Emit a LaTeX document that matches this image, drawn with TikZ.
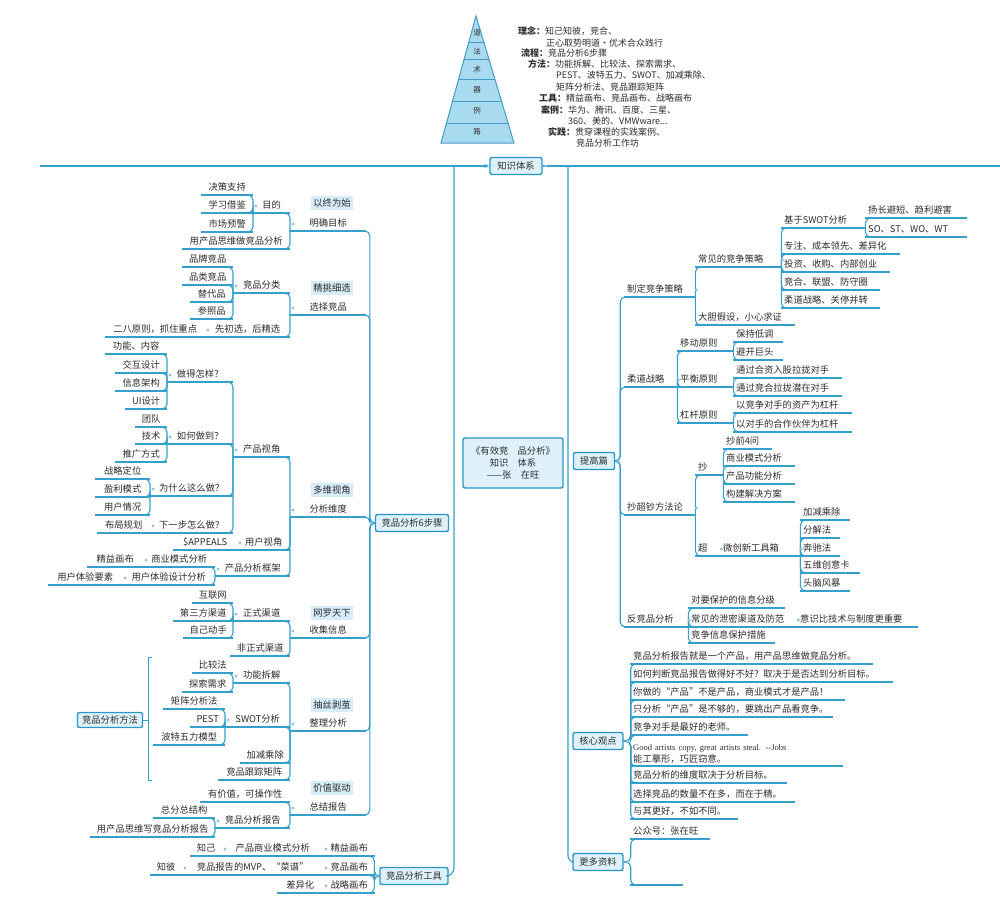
\documentclass[tikz,border=0pt]{standalone}
\usepackage{fontspec}
\setmainfont{Noto Sans CJK SC}
\newfontfamily\lser{Liberation Serif}
\usetikzlibrary{arrows.meta}
\definecolor{lnc}{RGB}{52,160,205}
\definecolor{boxc}{RGB}{40,150,200}
\definecolor{boxf}{RGB}{222,241,250}
\definecolor{labf}{RGB}{214,236,247}
\definecolor{dotc}{RGB}{150,195,215}
\definecolor{txt}{RGB}{45,45,45}
\definecolor{pyrf}{RGB}{168,218,240}
\definecolor{pyrl}{RGB}{70,155,200}
\tikzset{
  ln/.style={draw=lnc, line width=1.3pt},
  cn/.style={draw=lnc, line width=1.1pt, rounded corners=5pt},
  tpa/.style={anchor=south west, inner xsep=3pt, inner ysep=2.5pt, text=txt, font=\fontsize{9.3}{12}\selectfont},
  tp/.style={tpa, text height=7pt, text depth=2pt},
  bx/.style={draw=boxc, line width=1.4pt, fill=boxf, rounded corners=2pt, text=txt, font=\fontsize{9.3}{12}\selectfont, inner sep=2pt, minimum height=17pt},
  lab/.style={fill=labf, text=txt, font=\fontsize{9.3}{11}\selectfont, inner xsep=2.5pt, inner ysep=3pt},
  lg/.style={anchor=west, inner sep=0pt, text=txt, font=\fontsize{9}{10}\selectfont},
  pl/.style={text=txt, font=\fontsize{7.5}{8}\selectfont, inner sep=0pt},
  dt/.style={fill=dotc},
}
\newcommand\mmL[5]{\pgfmathsetmacro\mmw{#3-#2-6}\node[tp, text width=\mmw pt, align=center] (#1) at (#2,#4) {\mbox{#5}};}
\newcommand\mmR[5]{\pgfmathsetmacro\mmw{#3-#2-6}\node[tp, text width=\mmw pt, align=left] (#1) at (#2,#4) {\mbox{#5}};}
\begin{document}
\begin{tikzpicture}[x=1pt,y=-1pt]
\useasboundingbox (0,0) rectangle (1000,907);
\fill[white] (0,0) rectangle (1000,907);

% pyramid
\coordinate (pa) at (476,16);
\coordinate (pb) at (441,143);
\coordinate (pc) at (514,143);
\fill[pyrf] (pa) -- (pb) -- (pc) -- cycle;
\begin{scope}
\clip (pa) -- (pb) -- (pc) -- cycle;
\foreach \yy in {42,59,79,101,123} \draw[pyrl, line width=0.8pt] (400,\yy) -- (560,\yy);
\end{scope}
\draw[pyrl, line width=1pt] (pa) -- (pb) -- (pc) -- cycle;
\node[pl] (p1) at (477,33) {道};
\node[pl] (p2) at (477,52) {法};
\node[pl] (p3) at (477,70) {术};
\node[pl] (p4) at (477,90) {器};
\node[pl] (p5) at (477,111) {例};
\node[pl] (p6) at (477,132) {路};

% legend
\node[lg] (lg1) at (518,31) {\textbf{理念：}知己知彼，竞合、};
\node[lg] (lg2) at (546,43) {正心取势明道·优术合众践行};
\node[lg] (lg3) at (521,53) {\textbf{流程：}竞品分析6步骤};
\node[lg] (lg4) at (528,64) {\textbf{方法：}功能拆解、比较法、探索需求、};
\node[lg] (lg5) at (556,75) {PEST、波特五力、SWOT、加减乘除、};
\node[lg] (lg6) at (556,87) {矩阵分析法、竞品跟踪矩阵};
\node[lg] (lg7) at (539,98) {\textbf{工具：}精益画布、竞品画布、战略画布};
\node[lg] (lg8) at (541,110) {\textbf{案例：}华为、腾讯、百度、三星、};
\node[lg] (lg9) at (568,121) {360、美的、VMWware...};
\node[lg] (lg10) at (548,132) {\textbf{实践：}贯穿课程的实践案例、};
\node[lg] (lg11) at (576,143) {竞品分析工作坊};

% main boxes
\node[bx, minimum width=52pt] (zs) at (516,166) {知识体系};
\node[bx, minimum width=73pt] (step6) at (412,523) {竞品分析6步骤};
\node[bx, minimum width=68pt] (tool) at (414,876) {竞品分析工具};
\node[bx, minimum width=65pt, minimum height=15pt] (ffbox) at (110,720) {竞品分析方法};
\node[bx, minimum width=100pt, minimum height=50pt, align=center] (center) at (513,463) {《有效竞\quad 品分析》\\知识\quad 体系\\——张\quad 在旺};
\node[bx, minimum width=41pt] (tg) at (594,461) {提高篇};
\node[bx, minimum width=50pt] (core) at (598,741) {核心观点};
\node[bx, minimum width=50pt] (more) at (598,862) {更多资料};

% top frame lines
\coordinate (tl) at (40,166);
\coordinate (tr) at (1000,166);
\coordinate (ltop) at (454,166);
\coordinate (rtop) at (568,166);
\draw[ln, -{Stealth[length=5pt,width=4pt]}] (tl) -- (zs.west);
\draw[ln] (zs.east) -- (tr);
\draw[ln, line width=1.1pt, rounded corners=8pt] (ltop) |- (tool.east);
\draw[ln, line width=1.1pt, rounded corners=6pt] (rtop) |- (more.west);

% labels
\node[lab] (l1) at (332,203) {以终为始};
\node[lab] (l2) at (332,288) {精挑细选};
\node[lab] (l3) at (332,490) {多维视角};
\node[lab] (l4) at (332,613) {网罗天下};
\node[lab] (l5) at (332,705) {抽丝剥茧};
\node[lab] (l6) at (332,788) {价值驱动};

% left topics
\mmL{mb}{290}{366}{231}{明确目标}
\mmL{xz}{290}{366}{315}{选择竞品}
\mmL{fx}{290}{366}{517}{分析维度}
\mmL{sj}{290}{366}{638}{收集信息}
\mmL{zl}{290}{366}{731}{整理分析}
\mmL{zj}{290}{366}{815}{总结报告}
\mmL{md}{253}{290}{213}{目的}
\mmL{yc}{182}{290}{249}{用产品思维做竞品分析}
\mmL{jc}{201}{253}{195}{决策支持}
\mmL{xx}{201}{253}{213}{学习借鉴}
\mmL{sc}{201}{253}{232}{市场预警}
\mmL{fl}{233}{290}{293}{竞品分类}
\mmL{cx}{205}{290}{337}{先初选，后精选}
\mmL{pp}{182}{233}{267}{品牌竞品}
\mmL{pl}{182}{233}{285}{品类竞品}
\mmL{td}{190}{233}{302}{替代品}
\mmL{cz}{190}{233}{319}{参照品}
\mmL{ebl}{105}{205}{337}{二八原则，抓住重点}
\mmL{cpsj}{233}{290}{457}{产品视角}
\mmL{yhsj}{237}{290}{550}{用户视角}
\mmL{kj}{215}{290}{576}{产品分析框架}
\mmL{zdzy}{167}{233}{382}{做得怎样？}
\mmL{rhzd}{167}{233}{444}{如何做到？}
\mmL{wsm}{150}{233}{496}{为什么这么做？}
\mmL{xyb}{150}{233}{533}{下一步怎么做？}
\mmL{gnnr}{105}{167}{354}{功能、内容}
\mmL{jhsj}{115}{167}{373}{交互设计}
\mmL{xxjg}{115}{167}{391}{信息架构}
\mmL{uisj}{125}{167}{409}{UI设计}
\mmL{td2}{135}{167}{427}{团队}
\mmL{js}{135}{167}{444}{技术}
\mmL{tgfs}{115}{167}{462}{推广方式}
\mmL{zldw}{95}{150}{479}{战略定位}
\mmL{ylms}{95}{150}{497}{盈利模式}
\mmL{yhqk}{95}{150}{515}{用户情况}
\mmL{bjgh}{97}{150}{533}{布局规划}
\mmL{appeals}{173}{237}{550}{\$APPEALS}
\mmL{symx}{143}{215}{567}{商业模式分析}
\mmL{tysj}{122}{215}{585}{用户体验设计分析}
\mmL{jyhb}{87}{143}{567}{精益画布}
\mmL{tyys}{48}{122}{585}{用户体验要素}
\mmL{zsqd}{233}{290}{621}{正式渠道}
\mmL{fzs}{230}{290}{656}{非正式渠道}
\mmL{hlw}{192}{233}{603}{互联网}
\mmL{dsf}{173}{233}{621}{第三方渠道}
\mmL{zjds}{183}{233}{638}{自己动手}
\mmL{gncj}{233}{290}{683}{功能拆解}
\mmL{swot}{225}{290}{727}{SWOT分析}
\mmL{jjcc}{240}{290}{763}{加减乘除}
\mmL{gzjz}{218}{290}{780}{竞品跟踪矩阵}
\mmL{bjf}{192}{233}{673}{比较法}
\mmL{tsxq}{182}{233}{692}{探索需求}
\mmL{jzfx}{163}{225}{709}{矩阵分析法}
\mmL{pest}{190}{225}{727}{PEST}
\mmL{btwl}{153}{225}{745}{波特五力模型}
\mmL{yjz}{200}{290}{802}{有价值，可操作性}
\mmL{fxbg}{215}{290}{828}{竞品分析报告}
\mmL{zfz}{153}{215}{818}{总分总结构}
\mmL{cpsw}{90}{215}{837}{用产品思维写竞品分析报告}
\mmL{jyhb2}{323}{375}{856}{精益画布}
\mmL{jphb}{323}{375}{875}{竞品画布}
\mmL{zlhb}{323}{375}{893}{战略画布}
\mmL{cpsy}{222}{323}{856}{产品商业模式分析}
\mmL{zj2}{190}{222}{856}{知己}
\mmL{mvp}{182}{323}{875}{竞品报告的MVP、“菜谱”}
\mmL{zb}{150}{182}{875}{知彼}
\mmL{cyh}{277}{323}{893}{差异化}

% right topics
\mmR{zdcl}{624}{695}{297}{制定竞争策略}
\mmR{rdzl}{624}{677}{387}{柔道战略}
\mmR{cczf}{624}{695}{515}{抄超钞方法论}
\mmR{fjp}{624}{688}{627}{反竞品分析}
\mmR{cjcl}{695}{781}{267}{常见的竞争策略}
\mmR{ddjs}{695}{795}{325}{大胆假设，小心求证}
\mmR{swotfx}{781}{865}{228}{基于SWOT分析}
\mmR{zz}{781}{900}{254}{专注、成本领先、差异化}
\mmR{tz}{781}{890}{272}{投资、收购、内部创业}
\mmR{jh}{781}{880}{290}{竞合、联盟、防守圈}
\mmR{rd}{781}{880}{308}{柔道战略、关停并转}
\mmR{yczd}{865}{967}{218}{扬长避短、趋利避害}
\mmR{so}{865}{967}{237}{SO、ST、WO、WT}
\mmR{ydyz}{677}{733}{351}{移动原则}
\mmR{phyz}{677}{733}{387}{平衡原则}
\mmR{ggyz}{677}{733}{423}{杠杆原则}
\mmR{bcdd}{733}{783}{342}{保持低调}
\mmR{bkjt}{733}{783}{360}{避开巨头}
\mmR{hzrg}{733}{842}{378}{通过合资入股拉拢对手}
\mmR{jhlj}{733}{842}{396}{通过竞合拉拢潜在对手}
\mmR{zcgg}{733}{852}{413}{以竞争对手的资产为杠杆}
\mmR{hzhb}{733}{852}{432}{以对手的合作伙伴为杠杆}
\mmR{chao1}{695}{723}{475}{抄}
\mmR{chao2}{695}{720}{556}{超}
\mmR{cq4w}{723}{772}{449}{抄前4问}
\mmR{syms}{723}{795}{466}{商业模式分析}
\mmR{cpgn}{723}{795}{484}{产品功能分析}
\mmR{gjfa}{723}{795}{502}{构建解决方案}
\mmR{wcx}{720}{800}{556}{微创新工具箱}
\mmR{jjcc2}{800}{850}{520}{加减乘除}
\mmR{fjf}{800}{840}{538}{分解法}
\mmR{bcf}{800}{840}{556}{奔驰法}
\mmR{wwcy}{800}{860}{573}{五维创意卡}
\mmR{tnfb}{800}{850}{591}{头脑风暴}
\mmR{dybh}{688}{785}{608}{对要保护的信息分级}
\mmR{xmqd}{688}{797}{627}{常见的泄密渠道及防范}
\mmR{jzxx}{688}{775}{643}{竞争信息保护措施}
\mmR{ysbj}{797}{918}{627}{意识比技术与制度更重要}
\mmR{g1}{630}{873}{664}{竞品分析报告就是一个产品，用产品思维做竞品分析。}
\mmR{g2}{630}{893}{682}{如何判断竞品报告做得好不好？取决于是否达到分析目标。}
\mmR{g3}{630}{845}{700}{你做的“产品”不是产品，商业模式才是产品！}
\mmR{g4}{630}{833}{717}{只分析“产品”是不够的，要跳出产品看竞争。}
\mmR{g5}{630}{748}{735}{竞争对手是最好的老师。}
\node[tpa, text width=207pt, align=left] (g6) at (630,766) {{\lser\fontsize{8.5}{12}\selectfont Good artists copy, great artists steal. --Jobs}\\能工摹形，巧匠窃意。};
\mmR{g7}{630}{787}{783}{竞品分析的维度取决于分析目标。}
\mmR{g8}{630}{795}{802}{选择竞品的数量不在多，而在于精。}
\mmR{g9}{630}{738}{819}{与其更好，不如不同。}
\mmR{gzh}{630}{710}{839}{公众号：张在旺}
\mmR{gempty}{630}{683}{885}{}

% underlines
\foreach \n in {mb,xz,fx,sj,zl,zj,md,yc,jc,xx,sc,fl,cx,pp,pl,td,cz,ebl,cpsj,yhsj,kj,zdzy,rhzd,wsm,xyb,gnnr,jhsj,xxjg,uisj,td2,js,tgfs,zldw,ylms,yhqk,bjgh,appeals,symx,tysj,jyhb,tyys,zsqd,fzs,hlw,dsf,zjds,gncj,swot,jjcc,gzjz,bjf,tsxq,jzfx,pest,btwl,yjz,fxbg,zfz,cpsw,jyhb2,jphb,zlhb,cpsy,zj2,mvp,zb,cyh}
  \draw[ln] (\n.south west) -- (\n.south east);
\foreach \n in {zdcl,rdzl,cczf,fjp,cjcl,ddjs,swotfx,zz,tz,jh,rd,yczd,so,ydyz,phyz,ggyz,bcdd,bkjt,hzrg,jhlj,zcgg,hzhb,chao1,chao2,cq4w,syms,cpgn,gjfa,wcx,jjcc2,fjf,bcf,wwcy,tnfb,dybh,xmqd,jzxx,ysbj,g1,g2,g3,g4,g5,g6,g7,g8,g9,gzh,gempty}
  \draw[ln] (\n.south west) -- (\n.south east);

% left connectors
\foreach \p/\c in {md/jc,md/xx,md/sc,mb/md,mb/yc,fl/pp,fl/pl,fl/td,fl/cz,xz/fl,xz/cx,zdzy/gnnr,zdzy/jhsj,zdzy/xxjg,zdzy/uisj,rhzd/td2,rhzd/js,rhzd/tgfs,wsm/zldw,wsm/ylms,wsm/yhqk,cpsj/zdzy,cpsj/rhzd,cpsj/wsm,cpsj/xyb,fx/cpsj,fx/yhsj,fx/kj,kj/symx,kj/tysj,sj/zsqd,sj/fzs,zsqd/hlw,zsqd/dsf,zsqd/zjds,zl/gncj,zl/swot,zl/jjcc,zl/gzjz,gncj/bjf,gncj/tsxq,swot/jzfx,swot/pest,swot/btwl,zj/yjz,zj/fxbg,fxbg/zfz,fxbg/cpsw}
  \draw[cn] (\p.south west) |- ([xshift=-5pt]\c.south east);
\foreach \s in {mb,xz,fx,sj,zl,zj}
  \draw[cn] (step6.west) -- ++(-5,0) |- ([xshift=-5pt]\s.south east);
\foreach \s in {jyhb2,jphb,zlhb}
  \draw[cn] (tool.west) -- ++(-5,0) |- ([xshift=-5pt]\s.south east);

% right connectors
\foreach \p/\c in {zdcl/cjcl,zdcl/ddjs,cjcl/swotfx,cjcl/zz,cjcl/tz,cjcl/jh,cjcl/rd,swotfx/yczd,swotfx/so,rdzl/ydyz,rdzl/phyz,rdzl/ggyz,ydyz/bcdd,ydyz/bkjt,phyz/hzrg,phyz/jhlj,ggyz/zcgg,ggyz/hzhb,cczf/chao1,cczf/chao2,chao1/cq4w,chao1/syms,chao1/cpgn,chao1/gjfa,wcx/jjcc2,wcx/fjf,wcx/bcf,wcx/wwcy,wcx/tnfb,fjp/dybh,fjp/xmqd,fjp/jzxx}
  \draw[cn] (\p.south east) |- ([xshift=5pt]\c.south west);
\foreach \s in {zdcl,rdzl,cczf,fjp}
  \draw[cn] (tg.east) -- ++(5,0) |- ([xshift=5pt]\s.south west);
\foreach \s in {g1,g2,g3,g4,g5,g6,g7,g8,g9}
  \draw[cn] (core.east) -- ++(7,0) |- ([xshift=5pt]\s.south west);
\foreach \s in {gzh,gempty}
  \draw[cn] (more.east) -- ++(7,0) |- ([xshift=5pt]\s.south west);

% method bracket
\coordinate (bt) at (152,657);
\coordinate (bb) at (152,780);
\draw[ln, line width=1pt] (bt) -- ++(-4,0) |- (bb);
\draw[ln, line width=1pt] (ffbox.east) -- ++(6,0);

% dots
\foreach \n in {md,mb,fl,xz,cx,zdzy,rhzd,wsm,xyb,cpsj,yhsj,symx,tysj,kj,fx,zsqd,sj,gncj,swot,zl,fxbg,zj,jyhb2,jphb,zlhb,cpsy,mvp}
  \fill[dt] ([shift={(3pt,7pt)}]\n.south west) circle (1.7pt);
\foreach \n in {zdcl,cjcl,swotfx,rdzl,ydyz,phyz,ggyz,cczf,chao1,chao2,wcx,fjp,xmqd}
  \fill[dt] ([shift={(1pt,7pt)}]\n.south east) circle (1.7pt);
\fill[dt] ([xshift=-3pt]step6.west) circle (1.7pt);
\fill[dt] ([xshift=-3pt]tool.west) circle (1.7pt);
\fill[dt] ([xshift=3pt]tg.east) circle (1.7pt);
\fill[dt] ([xshift=4pt]core.east) circle (1.7pt);
\fill[dt] ([xshift=4pt]more.east) circle (1.7pt);
\fill[dt] ([xshift=3pt]zs.east) circle (1.7pt);
\end{tikzpicture}
\end{document}
